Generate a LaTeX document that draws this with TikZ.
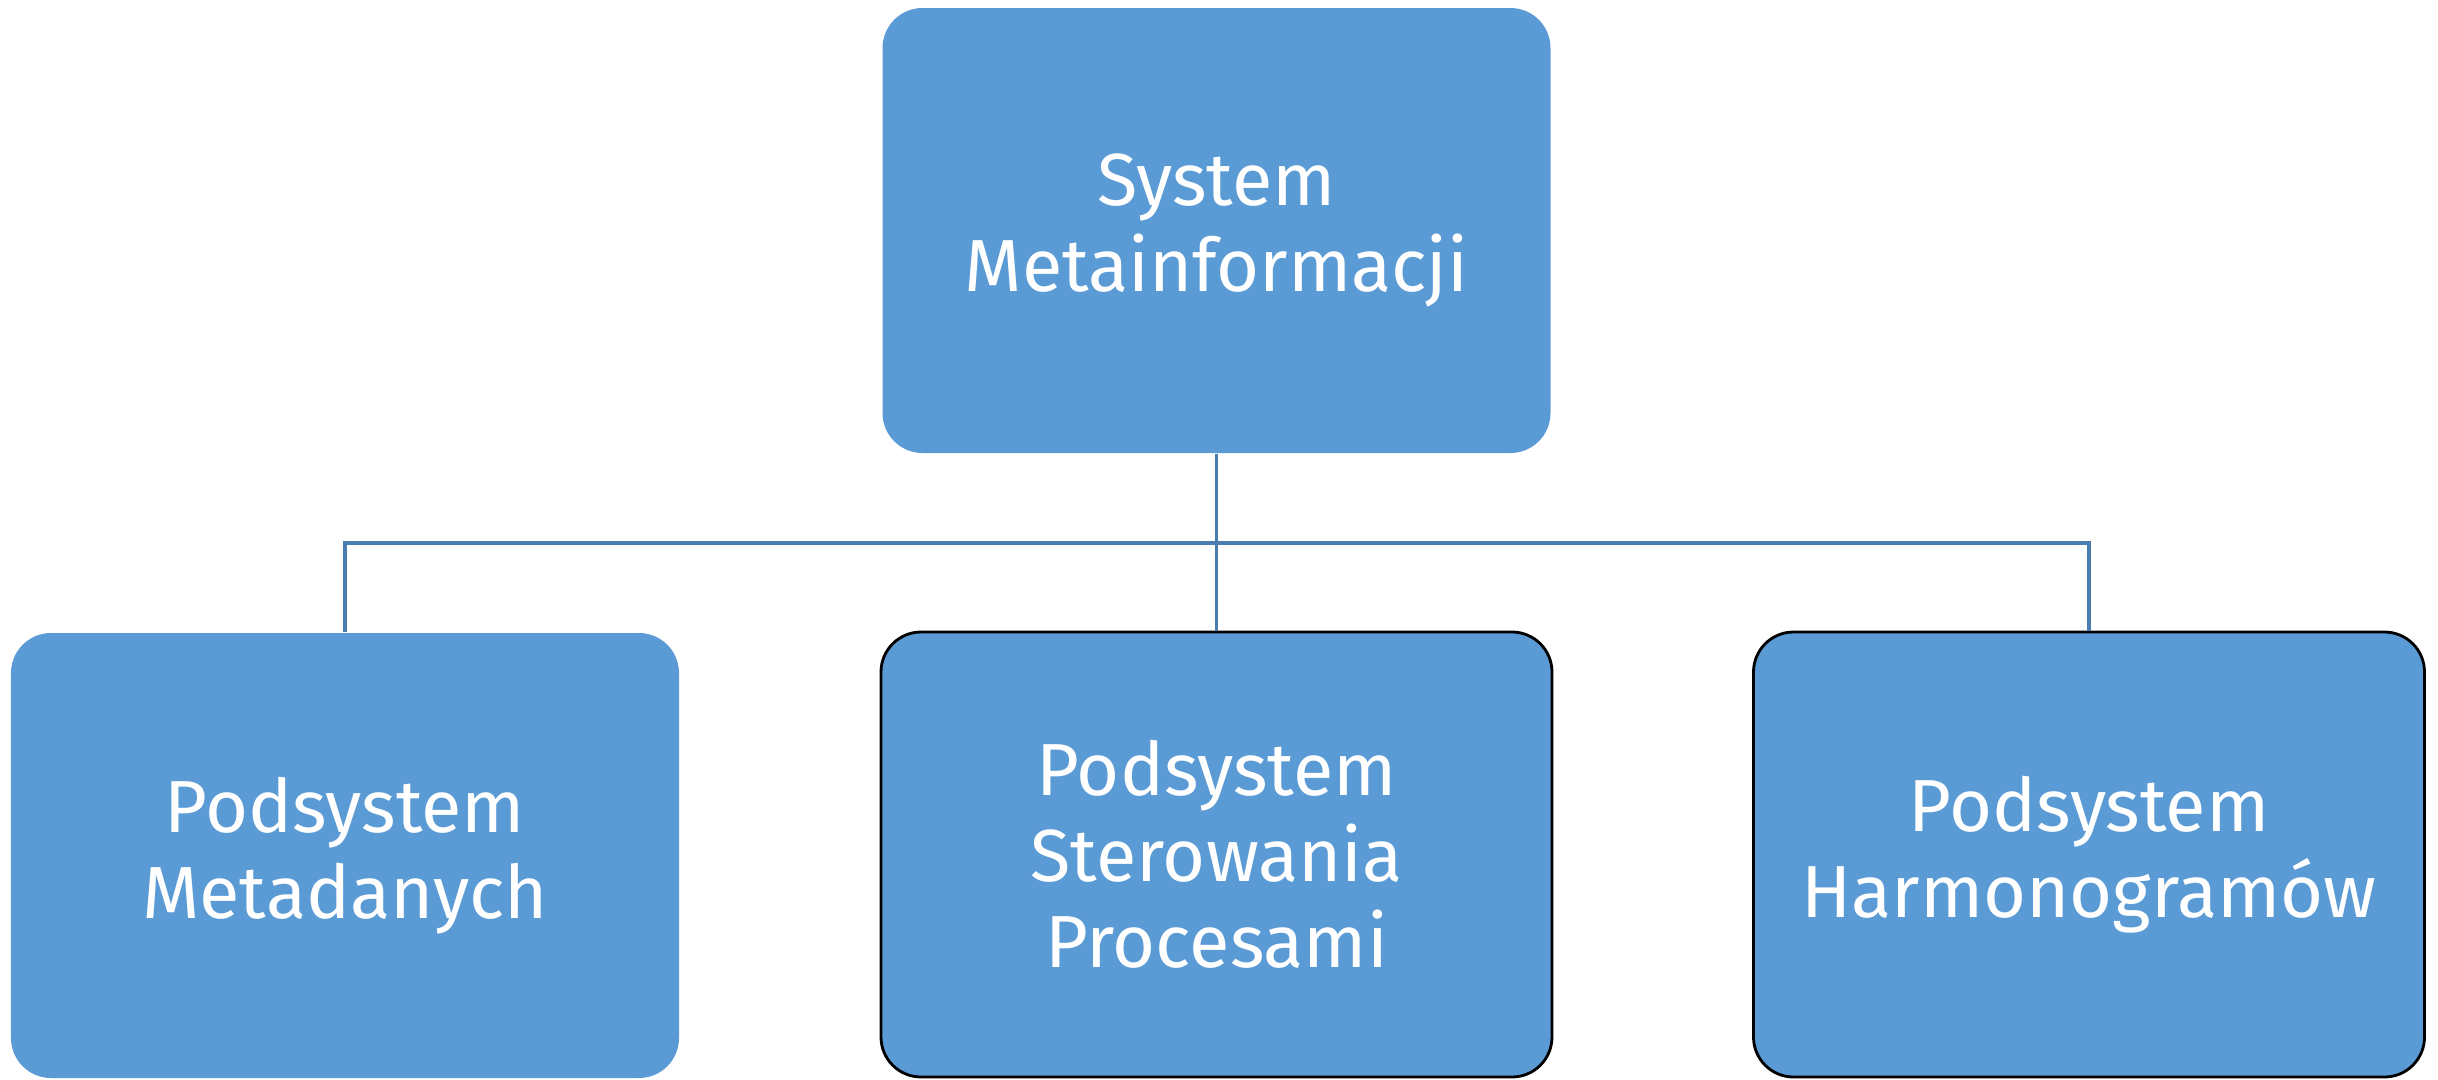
\documentclass[tikz,border=0pt]{standalone}
\usepackage{fontspec}
\setmainfont{Fira Sans}
\usepackage{tikz}

\definecolor{boxblue}{HTML}{5B9BD5}
\definecolor{lineblue}{HTML}{4A7EB0}

\begin{document}
\begin{tikzpicture}
[%%%%%%%%%%%%%%%%%%%%%%%%%%%%%%
box/.style={rectangle,rounded corners=0.4cm,fill=boxblue,text=white,align=center,
  minimum width=6.68cm,minimum height=4.45cm,inner sep=0pt,
  font=\fontsize{21}{24.5}\selectfont},
edged/.style={draw=black,line width=0.8pt},
conn/.style={draw=lineblue,line width=0.9pt},
]%%%%%%%%%%%%%%%%%%%%%%%%%%%%%%

\useasboundingbox (0,0) rectangle (24.38,-10.79);

\node[box] (sysmeta) at (12.165,-2.305){System\\Metainformacji};
\node[box] (podmeta) at (3.45,-8.555){Podsystem\\Metadanych};
\node[box,edged,minimum width=6.71cm] (podster) at (12.165,-8.545){Podsystem\\Sterowania\\Procesami};
\node[box,edged,minimum width=6.71cm] (podharm) at (20.89,-8.545){Podsystem\\Harmonogramów};

\draw[conn] (sysmeta.south) -- (podster.north);
\coordinate (bus) at (12.165,-5.43);
\draw[conn] (podmeta.north) |- (bus) -| (podharm.north);
\end{tikzpicture}
\end{document}
